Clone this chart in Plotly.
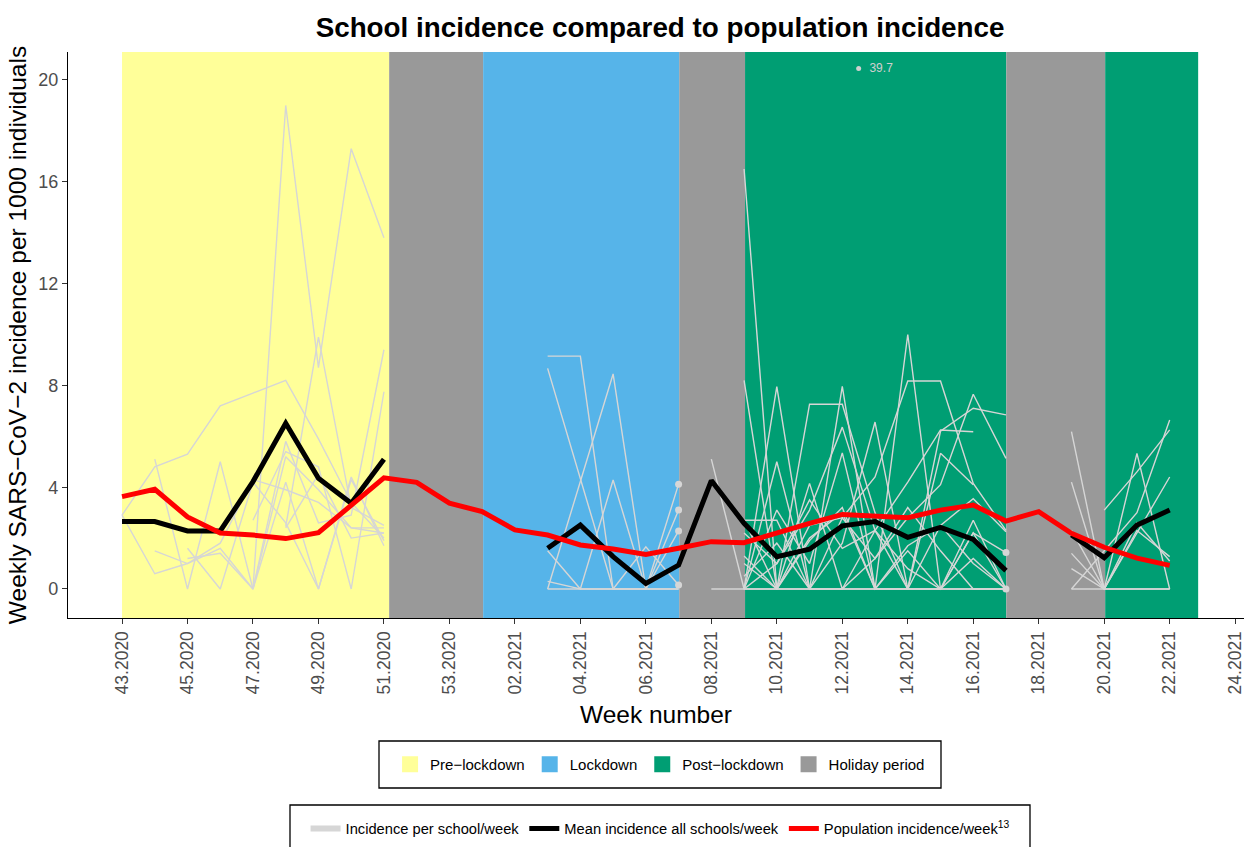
import plotly.graph_objects as go

# ---------------- data ----------------
weeks = ["43.2020", "44.2020", "45.2020", "46.2020", "47.2020", "48.2020", "49.2020",
         "50.2020", "51.2020", "52.2020", "53.2020",
         "01.2021", "02.2021", "03.2021", "04.2021", "05.2021", "06.2021", "07.2021",
         "08.2021", "09.2021", "10.2021", "11.2021", "12.2021", "13.2021", "14.2021",
         "15.2021", "16.2021", "17.2021", "18.2021", "19.2021", "20.2021", "21.2021",
         "22.2021", "23.2021", "24.2021"]

# population incidence per 1000 (weeks 43.2020 .. 22.2021)
population = [3.63, 3.92, 2.83, 2.20, 2.12, 1.98, 2.21, 3.27, 4.37, 4.19, 3.37, 3.04,
              2.32, 2.12, 1.73, 1.57, 1.36, 1.60, 1.86, 1.82, 2.21, 2.58, 2.93, 2.87,
              2.80, 3.10, 3.30, 2.67, 3.04, 2.19, 1.64, 1.21, 0.93]

# mean incidence all schools (weeks 43.2020 .. 22.2021)
mean_all = [2.65, 2.65, 2.28, 2.28, 4.22, 6.51, 4.35, 3.37, 5.10, None, None, None,
            None, 1.60, 2.51, 1.27, 0.22, 0.94, 4.26, 2.58, 1.27, 1.56, 2.48, 2.65,
            2.03, 2.42, 1.95, 0.72, None, 2.12, 1.23, 2.51, 3.10]

# per-school incidence, pre-lockdown (weeks 43.2020 .. 51.2020)
pre_start = "43.2020"
pre_schools = [
    [None, None, None, None, 0.0, 19.0, 8.7, 17.3, 13.8],
    [2.9, 4.8, 5.3, 7.2, 7.7, 8.2, 5.9, 3.4, 2.0],
    [2.9, 0.6, 1.0, 1.6, 0.0, 5.2, 3.9, 2.4, 2.2],
    [None, 5.1, 0.0, 5.0, 0.0, 4.2, 0.0, 4.4, 1.7],
    [None, 1.5, 1.0, 1.8, 4.3, 3.9, 3.4, 2.4, 2.4],
    [None, None, 1.2, 1.4, 0.0, 5.8, 2.6, 2.9, 9.4],
    [None, None, None, None, 2.7, 5.4, 4.8, 0.0, 7.75],
    [None, None, None, None, None, 2.4, 4.5, 2.0, 2.2],
    [None, None, None, None, None, 2.45, 9.9, 3.2, 2.5],
    [2.5, None, 1.6, 0.0, 4.2, 2.6, 0.0, 4.3, 1.9],
]

# per-school incidence, lockdown (weeks 03.2021 .. 07.2021)
lock_start = "03.2021"
lock_schools = [
    [9.15, 9.15, 0.0, 0.0, 0.0],
    [8.67, 4.3, 0.0, 0.0, 4.12],
    [0.0, 4.2, 8.45, 0.0, 3.1],
    [0.3, 0.0, 4.28, 0.0, 2.28],
    [1.5, 0.0, 0.0, 1.66, 0.16],
    [0.0, 0.0, 0.0, 0.0, 0.0],
]

# per-school incidence, post-lockdown (weeks 08.2021 .. 17.2021)
post_start = "08.2021"
post_schools = [
    [5.1, 0.0, 0.0, 0.0, 0.0, 0.0, 0.0, 0.0, 0.0, 0.0],
    [0.0, 0.0, 0.0, 0.0, 0.0, 0.0, 0.0, 0.0, 0.0, 0.0],
    [None, 16.5, 0.0, 1.9, 3.2, 0.0, 1.7, 2.5, 1.0, 0.0],
    [None, 8.2, 0.0, 4.15, 0.0, 2.3, 0.8, 0.0, 2.2, 1.43],
    [None, 0.0, 7.95, 0.0, 2.8, 1.2, 3.2, 1.5, 0.0, 0.0],
    [None, 0.0, 5.0, 0.0, 7.96, 0.0, 0.0, 6.2, 7.1, 6.84],
    [None, 2.7, 2.7, 0.0, 1.8, 6.56, 0.0, 5.33, 4.1, None],
    [None, 1.3, 0.0, 7.26, 7.26, 3.0, 0.0, 2.5, 3.55, 2.25],
    [None, 2.2, 1.0, 3.1, 6.36, 2.3, 0.0, 0.0, 2.2, 0.0],
    [None, 0.0, 3.1, 1.0, 5.35, 0.0, 10.0, 0.0, 1.2, 0.0],
    [None, 1.0, 0.0, 2.5, 2.8, 4.4, 8.17, 8.17, 4.15, 2.3],
    [None, 0.5, 1.8, 0.0, 0.0, 1.2, 2.8, 4.1, 7.65, 5.13],
    [None, 0.0, 1.0, 3.5, 1.6, 2.3, 4.2, 6.25, 6.18, None],
    [None, 2.7, 0.0, 2.0, 3.0, 0.0, 1.5, 0.0, 2.7, 0.0],
]

# per-school incidence, after May holiday (weeks 19.2021 .. 22.2021)
late_start = "19.2021"
late_schools = [
    [6.18, 0.0, 0.0, 0.0],
    [4.2, 0.0, 5.33, 0.0],
    [1.4, 0.0, 2.3, 1.27],
    [None, 3.1, 4.6, 6.25],
    [0.0, 1.5, 3.0, 6.64],
    [2.3, 0.0, 2.2, 4.4],
    [0.0, 0.0, 0.0, 0.0],
    [0.8, 0.0, 2.6, 1.1],
]

# isolated school points (week, value)
dot_weeks = ["07.2021", "07.2021", "07.2021", "07.2021", "17.2021", "17.2021"]
dot_values = [4.12, 3.1, 2.28, 0.16, 1.43, 0.0]

# outlier beyond axis range
outlier_pos = 22.5
outlier_shown = 20.45
outlier_label = "39.7"

# study periods
period_names = ["Pre−lockdown", "Holiday period", "Lockdown", "Holiday period",
                "Post−lockdown", "Holiday period", "Post−lockdown"]
period_start = [0, 8.16, 11.03, 17.02, 19.03, 27.01, 30.03]
period_end = [8.16, 11.03, 17.02, 19.03, 27.01, 30.03, 32.87]
period_colors = {"Pre−lockdown": "#FFFF99", "Lockdown": "#56B4E9",
                 "Post−lockdown": "#009E73", "Holiday period": "#999999"}
legend_periods = ["Pre−lockdown", "Lockdown", "Post−lockdown", "Holiday period"]

# ---------------- figure ----------------
FONT = "Liberation Sans, Arial, Helvetica, sans-serif"
GREY_LINE = "#D6D6D6"
pos = {w: i for i, w in enumerate(weeks)}

fig = go.Figure()

for start, group in [(pre_start, pre_schools), (lock_start, lock_schools),
                     (post_start, post_schools), (late_start, late_schools)]:
    s = pos[start]
    for vals in group:
        fig.add_trace(go.Scatter(
            x=list(range(s, s + len(vals))), y=vals, mode="lines",
            line=dict(color=GREY_LINE, width=1.4), connectgaps=False,
            showlegend=False, hoverinfo="skip"))

fig.add_trace(go.Scatter(
    x=[pos[w] for w in dot_weeks], y=dot_values, mode="markers",
    marker=dict(color=GREY_LINE, size=7), showlegend=False, hoverinfo="skip"))

fig.add_trace(go.Scatter(
    x=[outlier_pos], y=[outlier_shown], mode="markers+text",
    text=["  " + outlier_label], textposition="middle right",
    textfont=dict(family=FONT, size=12, color="#D0D0D0"),
    marker=dict(color="#D0D0D0", size=5), showlegend=False, hoverinfo="skip"))

# legend entry for school lines
fig.add_trace(go.Scatter(
    x=[None], y=[None], mode="lines", name="Incidence per school/week",
    line=dict(color=GREY_LINE, width=6), legend="legend2"))

fig.add_trace(go.Scatter(
    x=list(range(len(mean_all))), y=mean_all, mode="lines",
    name="Mean incidence all schools/week", connectgaps=False,
    line=dict(color="black", width=5), legend="legend2"))

fig.add_trace(go.Scatter(
    x=list(range(len(population))), y=population, mode="lines",
    name="Population incidence/week<sup>13</sup>",
    line=dict(color="#FF0000", width=5), legend="legend2"))

for name in legend_periods:
    fig.add_trace(go.Scatter(
        x=[None], y=[None], mode="markers", name=name,
        marker=dict(symbol="square", size=16, color=period_colors[name]),
        legend="legend"))

shapes = []
for name, x0, x1 in zip(period_names, period_start, period_end):
    shapes.append(dict(type="rect", xref="x", yref="paper", x0=x0, x1=x1, y0=0, y1=1,
                       fillcolor=period_colors[name], line=dict(width=0), layer="below"))

# legend boxes (paper coordinates)
def px2paper_x(px):
    return (px - 68) / 1176.0

def px2paper_y(py):
    return (618 - py) / 566.0

for (x0, y0, x1, y1) in [(379, 741, 941, 788), (290, 805, 1030, 853)]:
    shapes.append(dict(type="rect", xref="paper", yref="paper",
                       x0=px2paper_x(x0), x1=px2paper_x(x1),
                       y0=px2paper_y(y1), y1=px2paper_y(y0),
                       line=dict(color="black", width=1.3), fillcolor="rgba(0,0,0,0)"))

tick_idx = list(range(0, len(weeks), 2))

fig.update_layout(
    width=1244, height=847,
    margin=dict(l=68, r=0, t=52, b=229, autoexpand=False),
    paper_bgcolor="white", plot_bgcolor="white",
    font=dict(family=FONT, color="black"),
    title=dict(text="<b>School incidence compared to population incidence</b>",
               x=0.5306, xref="container", xanchor="center",
               y=1 - 27 / 847, yref="container", yanchor="middle",
               font=dict(size=27.8, color="black", family=FONT)),
    shapes=shapes,
    xaxis=dict(range=[-1.65, 34.27], tickmode="array", tickvals=tick_idx,
               ticktext=[weeks[i] for i in tick_idx], tickangle=-90,
               ticks="outside", ticklen=5, tickcolor="#333333", tickwidth=1,
               showline=True, linecolor="black", linewidth=1.3,
               showgrid=False, zeroline=False, automargin=False,
               ticklabeloverflow="allow",
               tickfont=dict(size=17.5, color="#4D4D4D", family=FONT),
               title=dict(text="Week number", standoff=12,
                          font=dict(size=24.5, color="black", family=FONT))),
    yaxis=dict(range=[-1.14, 21.1], tickmode="array", tickvals=[0, 4, 8, 12, 16, 20],
               ticks="outside", ticklen=5, tickcolor="#333333", tickwidth=1,
               showline=True, linecolor="black", linewidth=1.3,
               showgrid=False, zeroline=False, automargin=False,
               tickfont=dict(size=18, color="#4D4D4D", family=FONT),
               title=dict(text="Weekly SARS−CoV−2 incidence per 1000 individuals",
                          standoff=4,
                          font=dict(size=24.5, color="black", family=FONT))),
    legend=dict(orientation="h", xref="container", yref="container",
                x=0.5306, xanchor="center", y=1 - 764.5 / 847, yanchor="middle",
                font=dict(size=15, color="black", family=FONT),
                bgcolor="rgba(0,0,0,0)", borderwidth=0, itemclick=False),
    legend2=dict(orientation="h", xref="container", yref="container",
                 x=0.5306, xanchor="center", y=1 - 829 / 847, yanchor="middle",
                 font=dict(size=14.7, color="black", family=FONT),
                 bgcolor="rgba(0,0,0,0)", borderwidth=0, itemclick=False),
    showlegend=True,
)

fig.write_html("out.html", config={"displayModeBar": False},
               post_script="document.body.style.margin='0';"
                           "document.body.style.overflow='hidden';")
